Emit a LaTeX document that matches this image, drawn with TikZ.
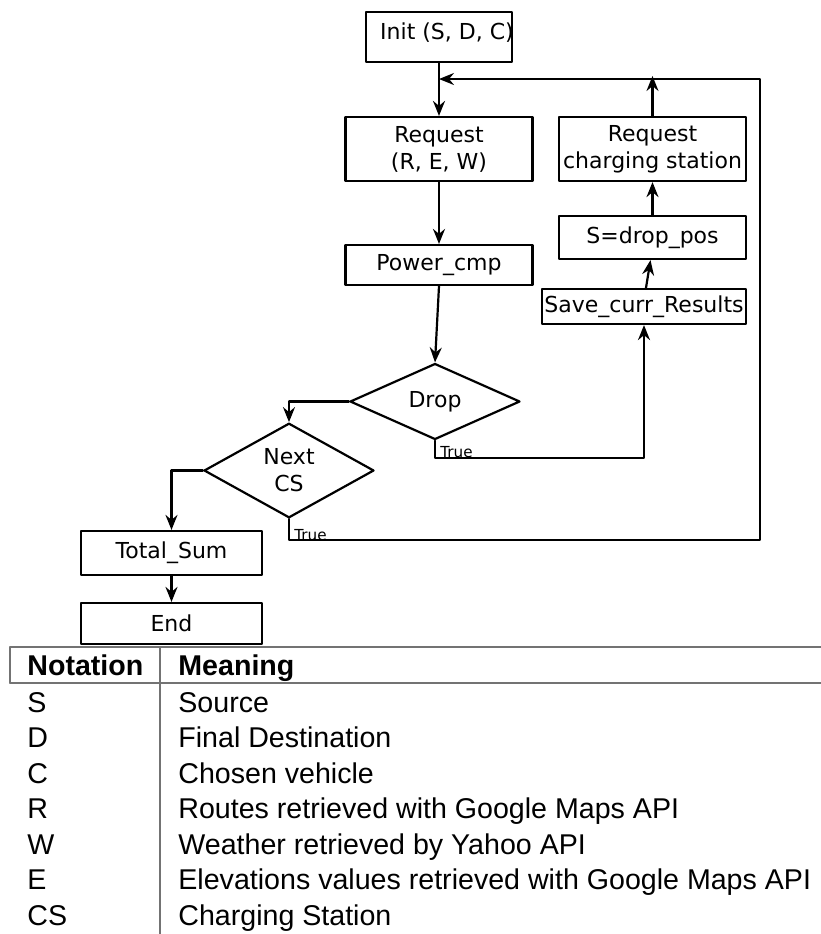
\documentclass[tikz,border=0pt]{standalone}
\usepackage{fontspec}
\usetikzlibrary{shapes.geometric,arrows.meta}
\newfontfamily\flowfont{DejaVu Sans}
\newfontfamily\tabfont{Liberation Sans}

\tikzset{
  box/.style={draw,line width=1.1pt,inner sep=1pt,align=center,
    font=\flowfont\fontsize{11}{13.5}\selectfont},
  decision/.style={draw,diamond,line width=1.1pt,inner sep=0pt,align=center,
    minimum width=85pt,minimum height=38pt,
    font=\flowfont\fontsize{11}{13.5}\selectfont},
  flow/.style={line width=1.1pt,->},
  truelbl/.style={anchor=west,inner sep=0pt,font=\flowfont\fontsize{7.6}{9}\selectfont},
  rule/.style={line width=0.8pt,black!55},
  cell/.style={anchor=base west,inner sep=0pt,font=\tabfont\fontsize{14.3}{17}\selectfont},
}

\begin{document}
\begin{tikzpicture}[x=0.5pt,y=-0.5pt,line cap=round,line join=round,
    >={Stealth[length=7.5pt,width=6pt,inset=2.5pt]}]
  \useasboundingbox (0,0) rectangle (821,934);

  % Flow boxes
  \node[box,minimum width=73pt,minimum height=25pt] (init) at (439,37) {};
  \node[inner sep=0pt,font=\flowfont\fontsize{11}{13.5}\selectfont] (initlbl) at (447,33) {Init (S, D, C)};
  \node[box,minimum width=93.5pt,minimum height=32pt] (req) at (439,149) {Request\\(R, E, W)};
  \node[box,minimum width=93.5pt,minimum height=20pt] (power) at (439,265) {Power\_cmp};
  \node[decision] (drop) at (435,401.5) {Drop};
  \node[decision] (nextcs) at (289,470.5) {Next\\CS};
  \node[box,minimum width=102pt,minimum height=17.5pt] (save) at (644,306.5) {Save\_curr\_Results};
  \node[box,minimum width=93.5pt,minimum height=21.5pt] (droppos) at (652.5,237.5) {S=drop\_pos};
  \node[box,minimum width=93.5pt,minimum height=32pt] (rcs) at (652.5,149) {Request\\charging station};
  \node[box,minimum width=90.5pt,minimum height=22pt] (total) at (171.5,553) {Total\_Sum};
  \node[box,minimum width=90.5pt,minimum height=20.5pt] (fin) at (171.5,623.5) {End};

  \coordinate (join) at (439,79);
  \coordinate (dropc) at (644,458);
  \coordinate (loopc) at (760,540);

  % Connectors
  \draw[flow] (init) -- (req);
  \draw[flow] (req) -- (power);
  \draw[flow] (power.south) -- (drop.north);
  \draw[flow] (drop.west) -| (nextcs.north);
  \draw[flow] (nextcs.west) -| (total.north);
  \draw[flow] (total) -- (fin);
  \draw[flow] (drop.south) |- (dropc) -- (save.south);
  \draw[flow] (nextcs.south) |- (loopc) |- (join);
  \draw[flow] ([xshift=1pt]save.north) -- ([xshift=-1pt]droppos.south);
  \draw[flow] (droppos) -- (rcs);
  \draw[flow] (rcs.north) -- ([yshift=1.5pt]rcs.north |- join);

  \node[truelbl] (droptrue) at ([shift={(5,11)}]drop.south) {True};
  \node[truelbl] (nexttrue) at ([shift={(5,16)}]nextcs.south) {True};

  % Notation table
  \draw[rule] (10,647) -- (821,647);
  \draw[rule] (10,683) -- (821,683);
  \draw[rule] (10,647) -- (10,683);
  \draw[rule] (160,647) -- (160,934);
  \node[cell,font=\tabfont\bfseries\fontsize{14.3}{17}\selectfont] (hnot) at (27,675) {Notation};
  \node[cell,font=\tabfont\bfseries\fontsize{14.3}{17}\selectfont] (hmean) at (178,675) {Meaning};
  \foreach \sym/\txt [count=\i] in {S/Source, D/Final Destination, C/Chosen vehicle,
      R/Routes retrieved with Google Maps API, W/Weather retrieved by Yahoo API,
      E/Elevations values retrieved with Google Maps API, CS/Charging Station} {
    \node[cell] (n\i) at (27,{712+35.5*(\i-1)}) {\sym};
    \node[cell] (m\i) at (178,{712+35.5*(\i-1)}) {\txt};
  }
\end{tikzpicture}
\end{document}
